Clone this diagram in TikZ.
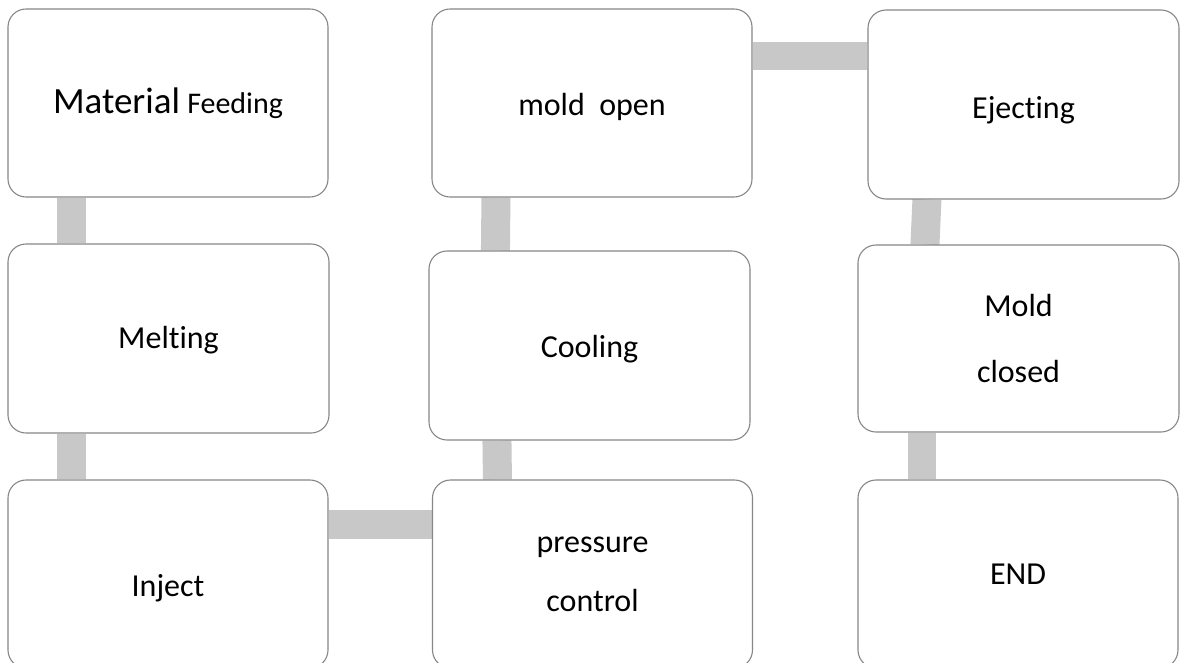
\documentclass[tikz,border=0pt]{standalone}
\usepackage{fontspec}
\setmainfont{Carlito}[Ligatures=NoCommon]
\usetikzlibrary{calc,backgrounds}
\definecolor{boxline}{RGB}{135,135,135}
\definecolor{barcol}{RGB}{200,200,200}
\newcommand\lowtext[2]{\raisebox{0pt}[\dimexpr\height+#1+#1\relax]{#2}}
\pgfdeclarelayer{canvas}
\pgfsetlayers{canvas,background,main}
\begin{document}
\begin{tikzpicture}[x=1pt,y=-1pt,
  stepbox/.style={draw=boxline,line width=1.1pt,fill=white,rounded corners=18pt,
    minimum width=320pt,minimum height=188pt,inner sep=0pt,align=center,
    font=\fontsize{32}{59}\selectfont},
  bar/.style={barcol,line width=29pt}]
\begin{pgfonlayer}{canvas}
\fill[white] (0,0) rectangle (1181,662);
\end{pgfonlayer}
\useasboundingbox (0,0) rectangle (1181,662);
% column 1
\node[stepbox] (feed) at (168,103) {{\fontsize{37}{40}\selectfont Material} {\fontsize{30}{34}\selectfont Feeding}};
\node[stepbox,minimum width=321pt,minimum height=189pt] (melt) at (168.5,338.5) {\lowtext{2pt}{Melting}};
\node[stepbox] (inject) at (168,574) {\lowtext{14pt}{Inject}};
% column 2
\node[stepbox] (mopen) at (592,103) {\lowtext{4pt}{mold\ \ open}};
\node[stepbox,minimum width=321pt,minimum height=189pt] (cool) at (589.5,345.5) {\lowtext{4pt}{Cooling}};
\node[stepbox] (press) at (592.5,574) {pressure\\control};
% column 3
\node[stepbox,minimum width=311pt,minimum height=189pt] (eject) at (1023.5,104.5) {\lowtext{6pt}{Ejecting}};
\node[stepbox,minimum width=321pt,minimum height=187pt] (mclose) at (1018.5,338.5) {Mold\\[7pt]closed};
\node[stepbox] (end) at (1018,574) {END};
% connectors
\begin{scope}[on background layer]
\draw[bar] ($(feed.south west)+(64.5,0)$) -- ($(melt.north west)+(64.5,0)$);
\draw[bar] ($(melt.south west)+(64.5,0)$) -- ($(inject.north west)+(64.5,0)$);
\draw[bar] ($(inject.north east)+(0,45.5)$) -- ($(press.north west)+(0,45.5)$);
\draw[bar] ($(press.north west)+(65.5,0)$) -- ($(cool.south west)+(68.5,0)$);
\draw[bar] ($(cool.north west)+(67,0)$) -- ($(mopen.south west)+(64.5,0)$);
\draw[bar,line width=28pt] ($(mopen.north east)+(0,48)$) -- ($(eject.north west)+(0,47)$);
\draw[bar] ($(eject.south west)+(59.5,0)$) -- ($(mclose.north west)+(67.5,0)$);
\draw[bar,line width=28pt] ($(mclose.south west)+(65,0)$) -- ($(end.north west)+(65,0)$);
\end{scope}
\end{tikzpicture}
\end{document}
